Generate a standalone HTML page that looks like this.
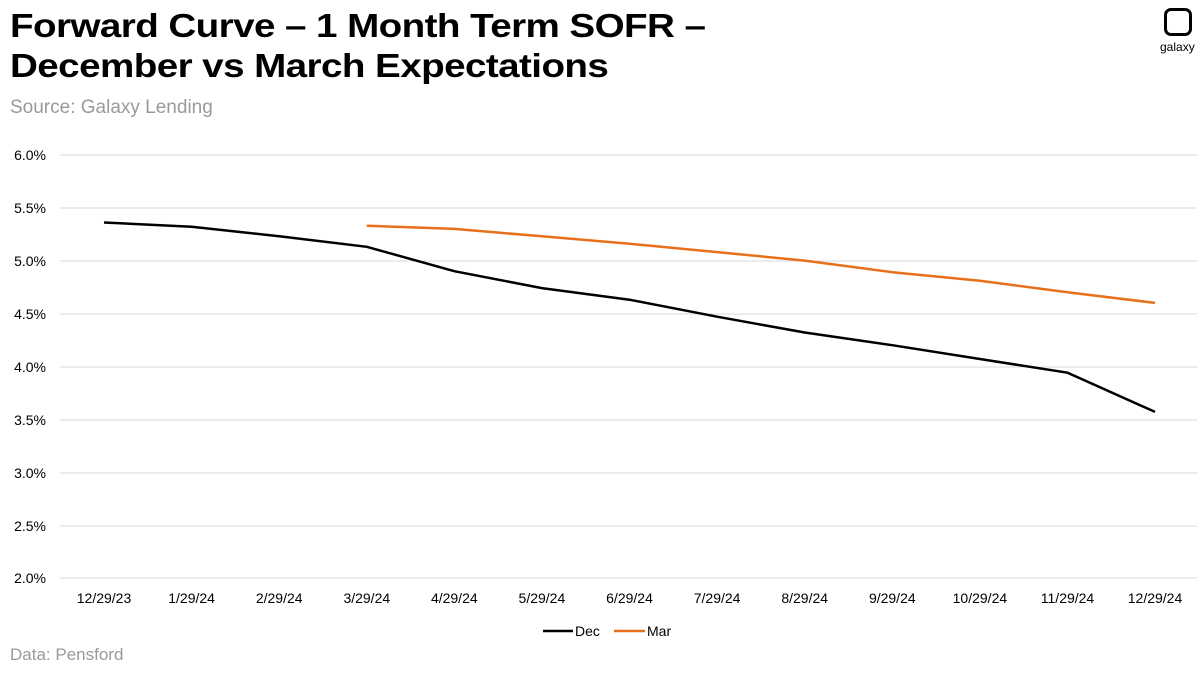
<!DOCTYPE html>
<html><head><meta charset="utf-8"><style>
body{margin:0;width:1200px;height:673px;background:#fff;font-family:"Liberation Sans",sans-serif;overflow:hidden;position:relative}
.t{position:absolute;left:10px;font-weight:bold;font-size:33px;color:#000;letter-spacing:-0.5px;line-height:40px;transform:scaleX(1.17);transform-origin:0 0;white-space:nowrap}
</style></head><body>
<div class="t" style="top:6px">Forward Curve – 1  Month Term SOFR –<br>December vs March Expectations</div>
<div style="position:absolute;left:10px;top:97px;font-size:19px;color:#9a9a9a">Source: Galaxy Lending</div>
<div style="position:absolute;left:10px;top:645px;font-size:17px;color:#9a9a9a">Data: Pensford</div>
<div style="position:absolute;left:1164px;top:8px;width:22px;height:22px;border:3px solid #000;border-radius:7px"></div>
<div style="position:absolute;left:1160px;top:40px;font-size:12px">galaxy</div>
<svg width="1200" height="673" style="position:absolute;left:0;top:0" font-family="Liberation Sans" font-size="14">
<g stroke="#d9d9d9" stroke-width="1">
<line x1="60" x2="1197" y1="155" y2="155"/><line x1="60" x2="1197" y1="208" y2="208"/><line x1="60" x2="1197" y1="261" y2="261"/><line x1="60" x2="1197" y1="314" y2="314"/><line x1="60" x2="1197" y1="367" y2="367"/><line x1="60" x2="1197" y1="420" y2="420"/><line x1="60" x2="1197" y1="473" y2="473"/><line x1="60" x2="1197" y1="526" y2="526"/><line x1="60" x2="1197" y1="578" y2="578"/>
</g>
<g text-anchor="end" fill="#000">
<text x="46" y="160">6.0%</text><text x="46" y="213">5.5%</text><text x="46" y="266">5.0%</text><text x="46" y="319">4.5%</text><text x="46" y="372">4.0%</text><text x="46" y="425">3.5%</text><text x="46" y="478">3.0%</text><text x="46" y="531">2.5%</text><text x="46" y="583">2.0%</text>
</g>
<g text-anchor="middle" fill="#000">
<text x="104" y="603">12/29/23</text><text x="191.6" y="603">1/29/24</text><text x="279.2" y="603">2/29/24</text><text x="366.8" y="603">3/29/24</text><text x="454.3" y="603">4/29/24</text><text x="541.9" y="603">5/29/24</text><text x="629.5" y="603">6/29/24</text><text x="717.1" y="603">7/29/24</text><text x="804.7" y="603">8/29/24</text><text x="892.3" y="603">9/29/24</text><text x="979.9" y="603">10/29/24</text><text x="1067.5" y="603">11/29/24</text><text x="1155" y="603">12/29/24</text>
</g>
<polyline fill="none" stroke="#000" stroke-width="2.5" points="104,222.5 191.6,226.7 279.2,236.3 366.8,246.8 454.3,271.2 541.9,288.1 629.5,299.7 717.1,316.7 804.7,332.5 892.3,345.2 979.9,359 1067.5,372.7 1155,411.9"/>
<polyline fill="none" stroke="#e8701a" stroke-width="2.5" points="366.8,225.7 454.3,228.9 541.9,236.3 629.5,243.7 717.1,252.1 804.7,260.6 892.3,272.2 979.9,280.7 1067.5,292.3 1155,302.9"/>
<line x1="543" x2="573" y1="631" y2="631" stroke="#000" stroke-width="2.5"/><text x="575" y="636">Dec</text>
<line x1="614" x2="645" y1="631" y2="631" stroke="#e8701a" stroke-width="2.5"/><text x="647" y="636">Mar</text>
</svg>
</body></html>
